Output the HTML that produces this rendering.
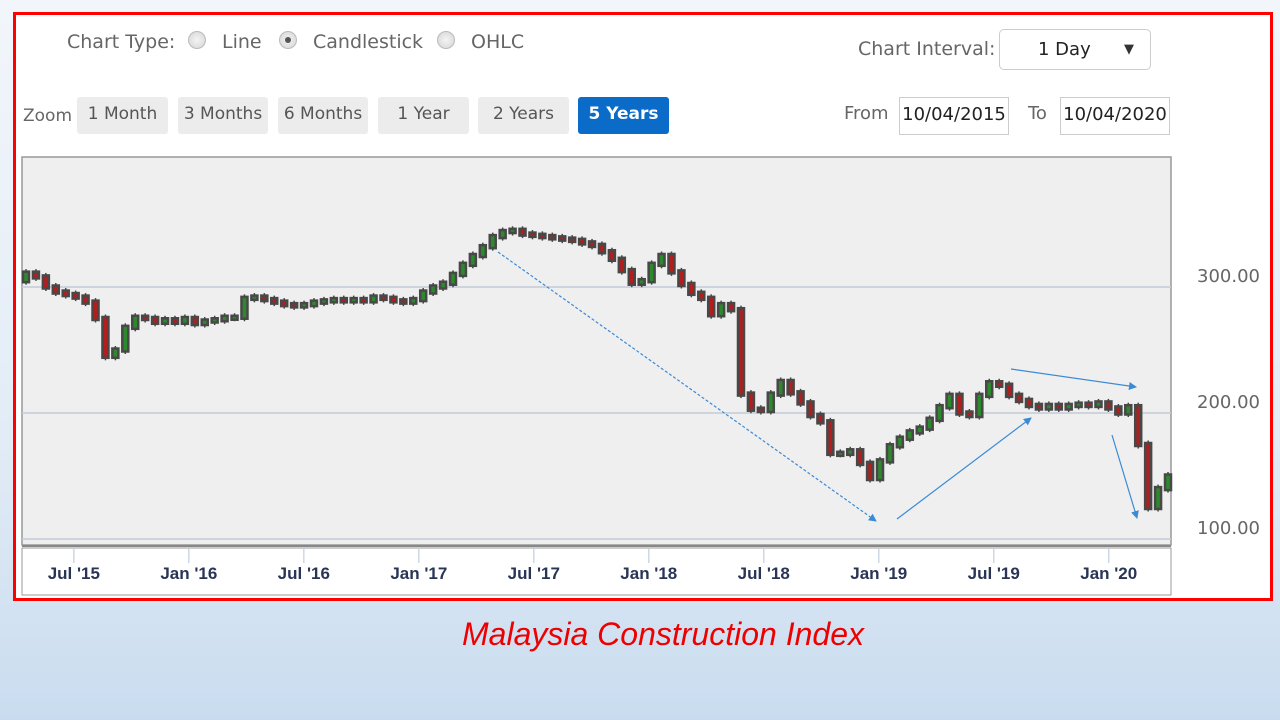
<!DOCTYPE html>
<html><head><meta charset="utf-8"><style>
body{margin:0;width:1280px;height:720px;overflow:hidden;background:linear-gradient(#f2f6fb 0%,#e3ecf6 60%,#c9dcef 100%);font-family:"Liberation Sans","DejaVu Sans",sans-serif;position:relative}
.frame{position:absolute;left:13px;top:12px;width:1254px;height:583px;border:3px solid #f00;background:#fff}
.t{position:absolute;color:#666;font-size:19px;font-family:"DejaVu Sans",sans-serif}
.radio{position:absolute;width:16px;height:16px;border-radius:50%;background:radial-gradient(#f4f4f4,#d4d4d4);border:1px solid #bbb}
.btn{position:absolute;top:97px;height:37px;background:#ececec;border-radius:3px;color:#555;font-size:17px;line-height:34px;text-align:center;font-family:"DejaVu Sans",sans-serif}
.box{position:absolute;border:1px solid #ccc;background:#fff;font-size:18px;color:#222;font-family:"DejaVu Sans",sans-serif}
</style></head><body>
<div class="frame"></div>
<div class="t" style="left:67px;top:31px">Chart Type:</div>
<div class="radio" style="left:188px;top:31px"></div>
<div class="t" style="left:222px;top:31px">Line</div>
<div class="radio" style="left:279px;top:31px"><div style="position:absolute;left:5px;top:5px;width:6px;height:6px;border-radius:50%;background:#555"></div></div>
<div class="t" style="left:313px;top:31px">Candlestick</div>
<div class="radio" style="left:437px;top:31px"></div>
<div class="t" style="left:471px;top:31px">OHLC</div>
<div class="t" style="left:858px;top:38px">Chart Interval:</div>
<div class="box" style="left:999px;top:29px;width:150px;height:39px;border-radius:5px;line-height:39px"><span style="position:absolute;left:38px">1 Day</span><span style="position:absolute;right:16px;font-size:13px;color:#333">▼</span></div>
<div class="t" style="left:23px;top:106px;font-size:17px">Zoom</div>
<div class="btn" style="left:77px;width:91px">1 Month</div>
<div class="btn" style="left:178px;width:90px">3 Months</div>
<div class="btn" style="left:278px;width:90px">6 Months</div>
<div class="btn" style="left:378px;width:91px">1 Year</div>
<div class="btn" style="left:478px;width:91px">2 Years</div>
<div class="btn" style="left:578px;width:91px;background:#0a6cc8;color:#fff;font-weight:bold">5 Years</div>
<div class="t" style="left:844px;top:103px;font-size:18px">From</div>
<div class="box" style="left:899px;top:97px;width:108px;height:36px;line-height:34px;text-align:center">10/04/2015</div>
<div class="t" style="left:1028px;top:103px;font-size:18px">To</div>
<div class="box" style="left:1060px;top:97px;width:108px;height:36px;line-height:34px;text-align:center">10/04/2020</div>
<svg id="c" width="1280" height="720" style="position:absolute;left:0;top:0"></svg>
<div style="position:absolute;left:0;width:1326px;top:616px;text-align:center;color:#e00;font-style:italic;font-size:32px">Malaysia Construction Index</div>
<script>
const closes=[311,308,300,296,294,292,288,275,245,250,268,276,275,272,274,272,275,271,273,274,276,276,291,292,290,288,286,285,286,288,289,290,289,290,289,292,291,289,288,290,296,300,303,310,318,325,332,340,344,345,342,341,340,339,338,337,335,333,328,322,313,303,305,318,325,312,302,295,291,278,286,282,215,203,202,215,225,216,208,198,193,168,168,170,160,148,162,174,180,185,188,195,205,214,200,198,214,224,222,214,210,206,204,206,204,206,207,206,208,204,200,205,175,125,140,150];
const firstOpen=[305];
const yTicks=[100,200,300];
const yTickLabels=["100.00","200.00","300.00"];
const xTickLabels=["Jul '15","Jan '16","Jul '16","Jan '17","Jul '17","Jan '18","Jul '18","Jan '19","Jul '19","Jan '20"];
const xTickMonths=[3,9,15,21,27,33,39,45,51,57];
const svg=document.getElementById('c');const NS='http://www.w3.org/2000/svg';
function el(t,a,p){const e=document.createElementNS(NS,t);for(const k in a)e.setAttribute(k,a[k]);(p||svg).appendChild(e);return e;}
const L=22,R=1171,T=157,B=545;
const y=v=>287-(v-300)*1.26;
const xIdx=i=>26+i*(1142/(closes.length-1));
const xMonth=m=>L+(m*30.44-9)*0.6296;
let r=el('rect',{x:L,y:T,width:R-L,height:B-T,fill:'#efefef',stroke:'#999','stroke-width':1.5});

yTicks.forEach((v,i)=>{
 if(y(v)<B-5){let g=el('line',{x1:L,x2:R,y1:y(v),y2:y(v),stroke:'#c2ccd8','stroke-width':1.5});}
 let t=el('text',{x:1260,y:y(v)-5,'text-anchor':'end','font-size':18,fill:'#666','font-family':'DejaVu Sans,sans-serif'});t.textContent=yTickLabels[i];
 
});
let ax=el('rect',{x:L,y:548,width:R-L,height:47,fill:'#fff',stroke:'#999','stroke-width':1});

el('line',{x1:L,x2:R,y1:B+1,y2:B+1,stroke:'#888','stroke-width':2});
xTickMonths.forEach((m,i)=>{
 const x=xMonth(m);
 let tk=el('line',{x1:x,x2:x,y1:549,y2:563,stroke:'#cdd8e6','stroke-width':1.5});
 let t=el('text',{x:x,y:579,'text-anchor':'middle','font-size':17,'font-weight':'bold',fill:'#2a3556'});t.textContent=xTickLabels[i];
 
});
closes.forEach((c,i)=>{
 const o=i===0?firstOpen[0]:closes[i-1];
 const x=xIdx(i);const hi=Math.max(o,c),lo=Math.min(o,c);
 let w=el('line',{x1:x,x2:x,y1:y(hi)-4,y2:y(lo)+4,stroke:'#444','stroke-width':1.5});
 
 let b=el('rect',{x:x-3,y:y(hi)-1.5,width:6,height:Math.max(4,y(lo)-y(hi)+3),fill:c>=o?'#2c8a2c':'#b01e1e',stroke:'#484848','stroke-width':2.5});
 
});
const defs=el('defs',{});
const mk=el('marker',{id:'ah',markerWidth:8,markerHeight:8,refX:7,refY:4,orient:'auto',markerUnits:'userSpaceOnUse'},defs);
el('path',{d:'M0,0 L8,4 L0,8 z',fill:'#3a8ad6'},mk);
[[498,252,876,521,'3,2'],[897,519,1031,418,''],[1011,369,1136,387,''],[1112,435,1137,518,'']].forEach(a=>{
 let l=el('line',{x1:a[0],y1:a[1],x2:a[2],y2:a[3],stroke:'#3a8ad6','stroke-width':1.2,'stroke-dasharray':a[4],'marker-end':'url(#ah)'});
 
});
</script>
</body></html>
